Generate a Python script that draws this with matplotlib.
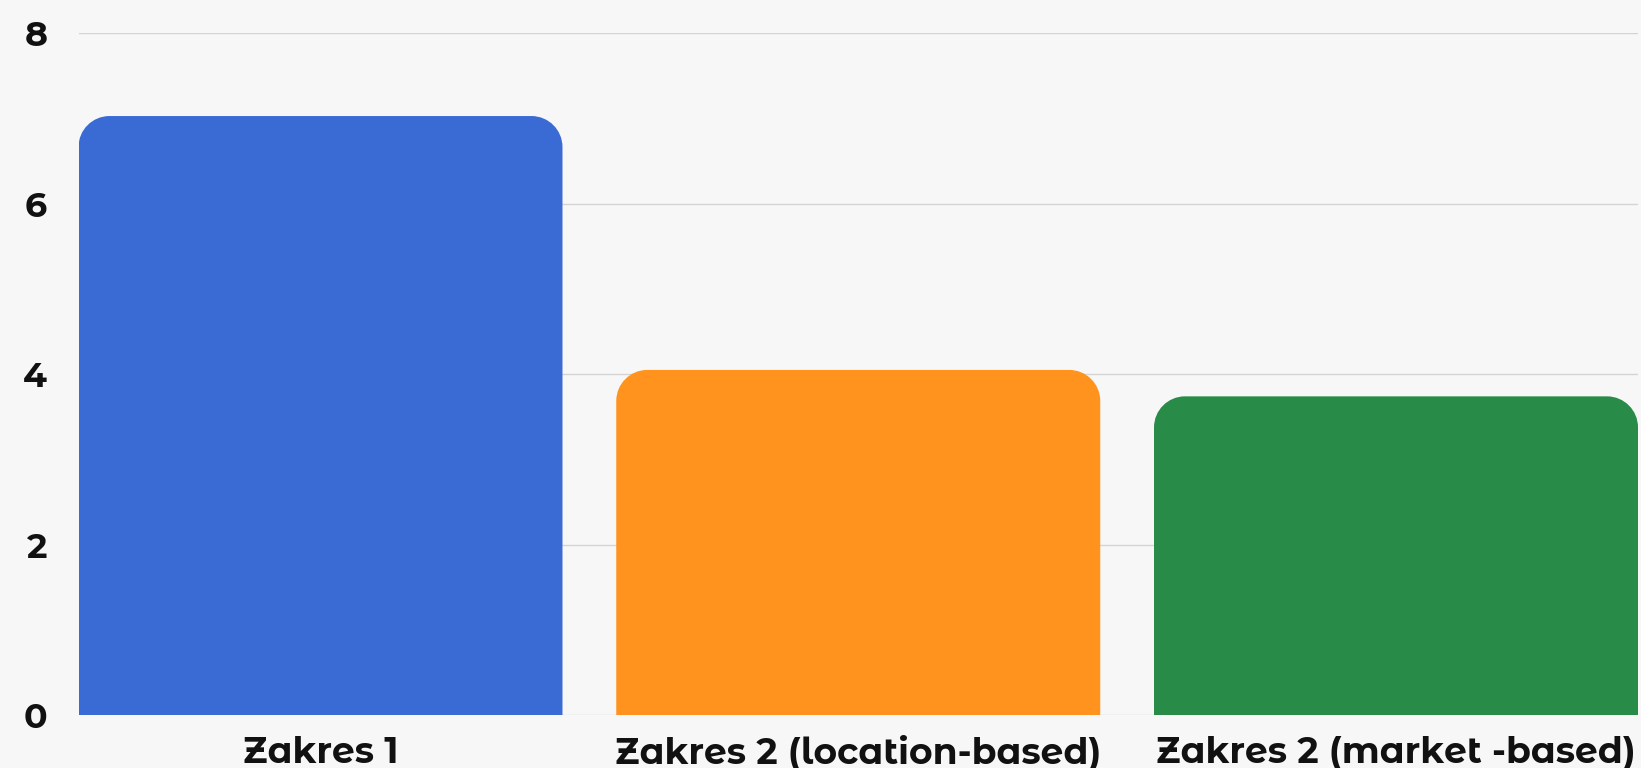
import matplotlib
matplotlib.use("Agg")
import matplotlib.pyplot as plt
from matplotlib.path import Path
from matplotlib.patches import PathPatch

categories = ["Zakres 1", "Zakres 2 (location-based)", "Zakres 2 (market -based)"]
values = [7.03, 4.05, 3.74]
colors = ["#3A6BD5", "#FF931E", "#288B47"]
yticks = [0, 2, 4, 6, 8]

plt.rcParams['font.family'] = ['Montserrat Alternates', 'DejaVu Sans']

W, H, DPI = 1641, 768, 100
fig = plt.figure(figsize=(W / DPI, H / DPI), dpi=DPI, facecolor="#F7F7F7")
ax = fig.add_axes([78.5 / W, 1 - 715 / H, (1638 - 78.5) / W, (715 - 33.4) / H])
ax.set_facecolor("#F7F7F7")

x = list(range(len(categories)))
bars = ax.bar(x, values, width=0.9, color=colors, zorder=2)
ax.set_xlim(-0.45, 2.45)
ax.set_ylim(0, 8)

# convert a pixel radius to data units
fig.canvas.draw()
bb = ax.get_window_extent()
r_px = 31
rx = r_px * (ax.get_xlim()[1] - ax.get_xlim()[0]) / bb.width
ry = r_px * (ax.get_ylim()[1] - ax.get_ylim()[0]) / bb.height
k = 0.5523
for b, c in zip(bars, colors):
    x0, y0 = b.get_x(), b.get_y()
    x1, y1 = x0 + b.get_width(), y0 + b.get_height()
    verts = [
        (x0, y0), (x0, y1 - ry),
        (x0, y1 - ry + k * ry), (x0 + rx - k * rx, y1), (x0 + rx, y1),
        (x1 - rx, y1),
        (x1 - rx + k * rx, y1), (x1, y1 - ry + k * ry), (x1, y1 - ry),
        (x1, y0), (x0, y0),
    ]
    codes = [Path.MOVETO, Path.LINETO,
             Path.CURVE4, Path.CURVE4, Path.CURVE4,
             Path.LINETO,
             Path.CURVE4, Path.CURVE4, Path.CURVE4,
             Path.LINETO, Path.CLOSEPOLY]
    b.set_visible(False)
    ax.add_patch(PathPatch(Path(verts, codes), facecolor=c, edgecolor="none", zorder=2))

ax.set_yticks(yticks)
ax.set_yticklabels([str(t) for t in yticks])
ax.set_xticks(x)
ax.set_xticklabels(categories)
ax.grid(axis="y", color="#D4D4D4", linewidth=1.0, zorder=0)
ax.set_axisbelow(True)
for s in ax.spines.values():
    s.set_visible(False)
ax.tick_params(axis="both", length=0, colors="#111111")
ax.tick_params(axis="y", pad=22.5, labelsize=25)
ax.tick_params(axis="x", pad=14.5, labelsize=26)
for lab in ax.get_xticklabels() + ax.get_yticklabels():
    lab.set_fontweight("bold")

fig.savefig("out.png", dpi=DPI, facecolor=fig.get_facecolor())
